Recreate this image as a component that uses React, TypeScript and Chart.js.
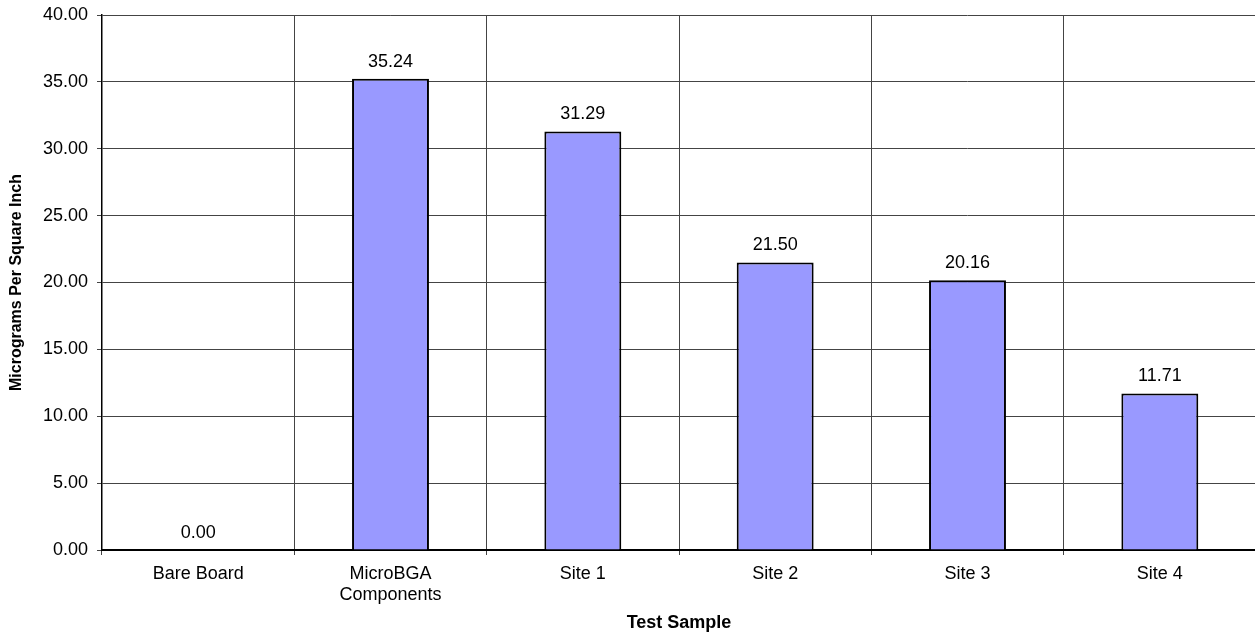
import { useEffect, useRef } from "react";
import { Chart, registerables } from "chart.js";

Chart.register(...registerables);

const categories: (string | string[])[] = [
  "Bare Board",
  ["MicroBGA", "Components"],
  "Site 1",
  "Site 2",
  "Site 3",
  "Site 4",
];
const values = [0.0, 35.24, 31.29, 21.5, 20.16, 11.71];
const yMin = 0;
const yMax = 40;
const yStep = 5;
const xTitle = "Test Sample";
const yTitle = "Micrograms Per Square Inch";

const FAMILY = '"Liberation Sans", Arial, Helvetica, sans-serif';

const valueLabels = {
  id: "valueLabels",
  afterDatasetsDraw(chart: any) {
    const ctx = chart.ctx;
    const meta = chart.getDatasetMeta(0);
    ctx.save();
    ctx.font = `18px ${FAMILY}`;
    ctx.fillStyle = "#000";
    ctx.textAlign = "center";
    ctx.textBaseline = "middle";
    meta.data.forEach((el: any, i: number) => {
      const { x, y } = el.getProps(["x", "y"], true);
      ctx.fillText(values[i].toFixed(2), x, y - 17);
    });
    ctx.restore();
  },
};

export default function App() {
  const ref = useRef<HTMLCanvasElement | null>(null);

  useEffect(() => {
    if (!ref.current) return;
    const chart = new Chart(ref.current, {
      type: "bar",
      data: {
        labels: categories,
        datasets: [
          {
            data: values,
            backgroundColor: "#9999FF",
            borderColor: "#000",
            borderWidth: 2,
            barPercentage: 0.4,
            categoryPercentage: 1,
          },
        ],
      },
      options: {
        animation: false,
        responsive: false,
        maintainAspectRatio: false,
        layout: { padding: { top: 15, right: 0, bottom: 0, left: 0 } },
        plugins: {
          legend: { display: false },
          tooltip: { enabled: false },
        },
        scales: {
          x: {
            type: "category",
            offset: true,
            grid: {
              display: true,
              offset: true,
              color: "#444",
              lineWidth: 1,
              drawTicks: true,
              tickLength: 5,
              tickColor: "#444",
            },
            border: { display: true, color: "#000", width: 2 },
            ticks: {
              color: "#000",
              font: { family: FAMILY, size: 18 },
              padding: 8,
              maxRotation: 0,
              autoSkip: false,
            },
            title: {
              display: true,
              text: xTitle,
              color: "#000",
              font: { family: FAMILY, size: 18, weight: "bold", lineHeight: 1 },
              padding: { top: 0, bottom: 0 },
            },
            afterFit(scale: any) {
              scale.height = 82;
              scale.paddingLeft = 0;
              scale.paddingRight = 0;
            },
          },
          y: {
            min: yMin,
            max: yMax,
            grid: {
              color: "#444",
              lineWidth: 1,
              drawTicks: true,
              tickLength: 5,
              tickColor: "#444",
            },
            border: { display: true, color: "#000", width: 1.5 },
            ticks: {
              stepSize: yStep,
              color: "#000",
              font: { family: FAMILY, size: 18 },
              padding: 9,
              callback: (v: any) => Number(v).toFixed(2),
            },
            title: {
              display: true,
              text: yTitle,
              color: "#000",
              font: { family: FAMILY, size: 16, weight: "bold", lineHeight: 1.2 },
              padding: { top: 7, bottom: 0 },
            },
            afterFit(scale: any) {
              scale.width = 102;
              scale.paddingTop = 0;
              scale.paddingBottom = 0;
            },
          },
        },
      },
      plugins: [valueLabels],
    });
    return () => chart.destroy();
  }, []);

  return (
    <div
      style={{
        position: "fixed",
        left: 0,
        top: 0,
        width: 1255,
        height: 632,
        overflow: "hidden",
        background: "#fff",
      }}
    >
      <canvas ref={ref} width={1256} height={632} style={{ display: "block" }} />
    </div>
  );
}
